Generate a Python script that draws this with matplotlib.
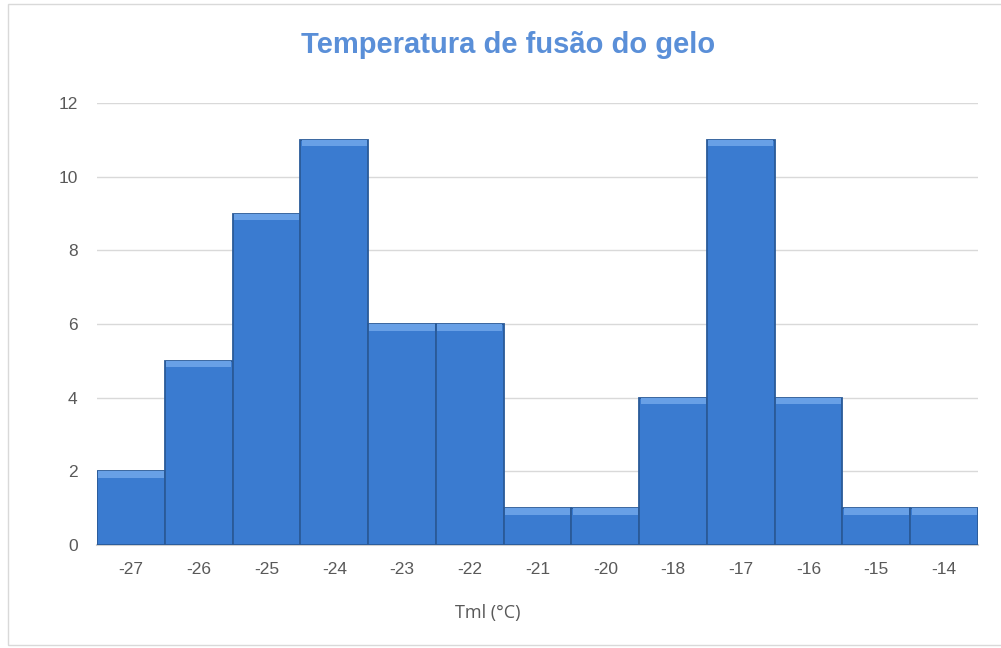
import matplotlib.pyplot as plt
import numpy as np
from matplotlib.patches import Rectangle

# histogram of ice melting temperature
categories = ['-27', '-26', '-25', '-24', '-23', '-22', '-21', '-20', '-18', '-17', '-16', '-15', '-14']
counts = [2, 5, 9, 11, 6, 6, 1, 1, 4, 11, 4, 1, 1]
yticks = [0, 2, 4, 6, 8, 10, 12]

plt.rcParams['font.family'] = ['Liberation Sans', 'DejaVu Sans']

fig = plt.figure(figsize=(10.01, 6.48), dpi=100)
fig.patches.append(Rectangle((0.008, 0.004), 0.995, 0.99, transform=fig.transFigure,
                             fill=False, ec='#d9d9d9', lw=1))
ax = fig.add_axes([0.097, 0.159, 0.880, 0.682])

x = np.arange(len(categories))
ax.bar(x, counts, width=1.0, color='#3a7bd0', edgecolor='#2a5a98', linewidth=1.3, zorder=3)
# lighter bevel on top of each bar
bev = 0.18
ax.bar(x, [bev] * len(counts), bottom=[c - bev for c in counts], width=0.96,
       color='#68a0e6', linewidth=0, zorder=4)

ax.set_xlim(-0.5, len(categories) - 0.5)
ax.set_ylim(0, 12)
ax.set_yticks(yticks)
ax.set_xticks(x)
ax.set_xticklabels(categories)
ax.grid(axis='y', color='#d9d9d9', lw=1, zorder=0)
for s in ['top', 'right', 'left']:
    ax.spines[s].set_visible(False)
ax.spines['bottom'].set_color('#d0d0d0')
ax.spines['bottom'].set_linewidth(1.5)
ax.tick_params(length=0, labelsize=12.5, colors='#595959', pad=12)
ax.tick_params(axis='y', pad=14)

ax.set_xlabel('Tml (°C)', fontsize=13, color='#595959', family=['Open Sans', 'DejaVu Sans'])
ax.xaxis.set_label_coords(0.443, -0.133)
fig.text(0.508, 0.930, 'Temperatura de fusão do gelo', ha='center', va='center',
         fontsize=21, fontweight='bold', color='#5a8fd8')

plt.savefig('out.png', dpi=100)
